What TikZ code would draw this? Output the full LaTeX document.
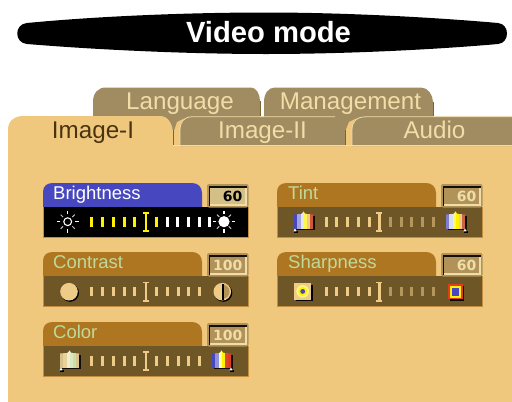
\documentclass[tikz,border=0pt]{standalone}
\usepackage{fontspec}
\setmainfont{Liberation Sans}
\newfontfamily\valfont{DejaVu Sans}
\definecolor{panelbg}{HTML}{EFC87E}
\definecolor{tabback}{HTML}{A08C60}
\definecolor{tabline}{HTML}{7A6434}
\definecolor{head}{HTML}{AF7622}
\definecolor{body}{HTML}{6F5626}
\definecolor{bluehead}{HTML}{4747BF}
\definecolor{labelgreen}{HTML}{BEDA9A}
\definecolor{tick}{HTML}{EFCB88}
\definecolor{tabtext}{HTML}{F0DDA8}
\definecolor{valfill}{HTML}{B1935A}
\definecolor{valedge}{HTML}{F0DDA8}
\definecolor{activeval}{HTML}{D4BF86}
\definecolor{darkbrown}{HTML}{4A3410}
\tikzset{
 tabtxt/.style={font=\fontsize{24.2}{26}\selectfont,text=tabtext,inner sep=0pt,anchor=base},
 hlabel/.style={font=\fontsize{18.5}{20}\selectfont,text=labelgreen,inner sep=0pt,anchor=base west},
 valtxt/.style={font=\valfont\fontsize{14}{16}\bfseries\selectfont,inner sep=0pt,anchor=base east},
}
\newcommand{\dotticks}[5]{%
 \foreach \k in {0,1,2,3,4}{\fill[#3] ({#1+\k*10.8-1.5},{#2-4.8}) rectangle ({#1+\k*10.8+1.5},{#2+4.8});}
 \foreach \k in {0,1,2,3,4}{\fill[#4] ({#5+\k*10.7-1.5},{#2-4.8}) rectangle ({#5+\k*10.7+1.5},{#2+4.8});}
}
\newcommand{\bigtick}[3]{%
 \fill[#3] ({#1-1.2},{#2-9}) rectangle ({#1+1.2},{#2+9});
 \fill[#3] ({#1-3},{#2-10}) rectangle ({#1+3},{#2-8.4});
 \fill[#3] ({#1-3},{#2+8.4}) rectangle ({#1+3},{#2+10});
}
\newcommand{\panelshape}[5]{%
 \fill[#4] (#1,#2+24.5) -- (#1,#2+9) .. controls (#1,#2+3) and (#1+4,#2) .. (#1+10,#2) -- (#3-10,#2)
   .. controls (#3-4,#2) and (#3,#2+4) .. (#3,#2+10) -- (#3,#2+24.5) -- cycle;
 \fill[#5] (#1,#2+24) rectangle (#1+205,#2+54.5);
 \draw[head!70!panelbg,line width=0.6pt] (#1,#2+24) -- (#1,#2+54.5) -- (#1+205,#2+54.5) -- (#1+205,#2+24);
}
\newcommand{\valbox}[6]{%
 \fill[valfill,rounded corners=2pt] (#1,#2+1) rectangle (#1+41.5,#2+24.5);
 \fill[black!90!valfill] (#1+1.8,#2+3.2) rectangle (#1+39.8,#2+22.8);
 \fill[#3] (#1+3.4,#2+5) rectangle (#1+39.8,#2+21);
 \fill[valedge] (#1+38.3,#2+5) rectangle (#1+39.8,#2+22.8);
 \fill[valedge] (#1+3.4,#2+21) rectangle (#1+39.8,#2+22.8);
 \node[valtxt,text=#4] (#6) at (#1+35.5,#2+18.5) {#5};
}
\newcommand{\sunicon}[3]{%
 \foreach \a in {0,90,180,270}{\draw[white,line width=1.1pt] ({#1+7.6*cos(\a)},{#2+7.6*sin(\a)}) -- ({#1+11*cos(\a)},{#2+11*sin(\a)});}
 \foreach \a in {45,135,225,315}{\draw[white!75!black,line width=1pt] ({#1+6.6*cos(\a)},{#2+6.6*sin(\a)}) -- ({#1+10*cos(\a)},{#2+10*sin(\a)});}
}
\newcommand{\colorflag}[5]{%
 \fill[black!85!body] (#1+1.5,#2+3) rectangle (#1+20.5,#2+17.2);
 \begin{scope}
 \clip (#1,#2+1.5) -- (#1+6.5,#2+1) -- (#1+8,#2+0.6) -- (#1+9.5,#2-1.6) -- (#1+11,#2+0.6) -- (#1+13,#2+1) -- (#1+19.3,#2+1.5) -- (#1+19.3,#2+15.8) -- (#1,#2+15.8) -- cycle;
 \foreach \i/\c in {#3}{\fill[\c] (#1+\i,#2-2) rectangle (#1+\i+3.4,#2+16);}
 \end{scope}
 \fill[black] (#4-1,#5+0.8) rectangle (#4+2.5,#5+2.3);
 \fill[white] (#4-1.5,#5+0.8) -- (#4,#5-2) -- (#4+1.5,#5+0.8) -- cycle;
}
\begin{document}
\begin{tikzpicture}[x=1pt,y=-1pt,line cap=butt]
\useasboundingbox (0,0) rectangle (512,402);
\fill[white] (0,0) rectangle (512,402);
% title
\fill[black] (27,23) .. controls (100,16) and (190,12.5) .. (266,12.5) .. controls (341,12.5) and (430,17) .. (498,23)
  .. controls (510,24) and (510,43) .. (498,44) .. controls (430,50) and (341,54) .. (266,54)
  .. controls (190,54) and (100,50) .. (27,44) .. controls (14,43) and (14,24) .. (27,23) -- cycle;
\node[font=\fontsize{29.2}{30}\bfseries\selectfont,text=white,inner sep=0pt,anchor=base] (title) at (268.5,42.7) {Video mode};
% back tabs
\fill[tabback] (93,130) -- (93,102) .. controls (93,93) and (98,87.5) .. (106,87.5) -- (251,87.5) .. controls (256,87.5) and (260,94) .. (260,101) -- (260,130) -- cycle;
\fill[tabback] (264,130) -- (264,102) .. controls (264,94) and (268,87.5) .. (275,87.5) -- (421,87.5) .. controls (428,87.5) and (433,95) .. (433,102) -- (433,118) -- (360,130) -- cycle;
\draw[tabline,line width=1pt] (260,101) -- (260,116) (433,102) -- (433,116);
\node[tabtxt] (language) at (180,109) {Language};
\node[tabtxt] (management) at (350.5,109) {Management};
% panel
\fill[panelbg] (8,402) -- (8,130) .. controls (8,121) and (14,116) .. (24,116) -- (160,116) .. controls (168,116) and (173,124) .. (173,134) -- (173,146) -- (512,146) -- (512,402) -- cycle;
% wedges between the front tabs
\fill[panelbg] (173,134) -- (173,146) -- (180,146) -- (180,130) .. controls (180,124) and (182,120) .. (185,118) -- (177,122) -- cycle;
\fill[panelbg] (345,132) -- (345,146) -- (352,146) -- (352,130) .. controls (352,124) and (354,120) .. (357,118) -- (349,122) -- cycle;
% front tabs
\fill[tabback] (180,146) -- (180,130) .. controls (180,122) and (184,116.5) .. (192,116.5) -- (335,116.5) .. controls (340,116.5) and (345,124) .. (345,132) -- (345,146) -- cycle;
\fill[tabback] (352,146) -- (352,130) .. controls (352,122) and (356,116.5) .. (366,116.5) -- (512,116.5) -- (512,146) -- cycle;
\draw[tabtext,line width=0.8pt] (180,145.5) -- (180,130) .. controls (180,122) and (184,116.8) .. (192,116.8) -- (335,116.8);
\draw[tabtext,line width=0.8pt] (352,145.5) -- (352,130) .. controls (352,122) and (356,116.8) .. (366,116.8) -- (512,116.8);
\draw[tabtext,line width=0.8pt] (173,145.6) -- (512,145.6);
\draw[tabline,line width=1pt] (345,130) -- (345,145) (173,130) -- (173,145);
\node[tabtxt,text=darkbrown] (imagei) at (93,138.3) {Image-I};
\node[tabtxt] (imageii) at (262.5,138.3) {Image-II};
\node[tabtxt] (audio) at (434.5,138.3) {Audio};
% panels
\panelshape{43}{183}{202}{bluehead}{black}
\panelshape{43}{252}{202}{head}{body}
\panelshape{43}{322}{202}{head}{body}
\panelshape{277}{183}{436}{head}{body}
\panelshape{277}{252}{436}{head}{body}
\node[hlabel,text=white] (brightness) at (53,199) {Brightness};
\node[hlabel] (contrast) at (53,268) {Contrast};
\node[hlabel] (color) at (53,338) {Color};
\node[hlabel] (tint) at (288,199) {Tint};
\node[hlabel] (sharpness) at (288,268) {Sharpness};
\valbox{207}{183}{activeval}{black}{60}{vbright}
\valbox{207}{252}{valfill}{valedge}{100}{vcontrast}
\valbox{207}{322}{valfill}{valedge}{100}{vcolor}
\valbox{441}{183}{valfill}{valedge}{60}{vtint}
\valbox{441}{252}{valfill}{valedge}{60}{vsharp}
% sliders
\dotticks{91.7}{222}{yellow}{white}{167}
\fill[yellow] (155.2,217.2) rectangle (158.2,226.8);
\bigtick{145.7}{222}{yellow}
\dotticks{91.7}{291.5}{tick}{tick}{156.7}
\bigtick{145.7}{291.5}{tick}
\dotticks{91.7}{361}{tick}{tick}{156.7}
\bigtick{145.7}{361}{tick}
\dotticks{326}{222}{tick}{tick!55!body}{390.3}
\bigtick{379.3}{222}{tick}
\dotticks{326}{291.5}{tick}{tick!55!body}{390.3}
\bigtick{379.3}{291.5}{tick}
% brightness icons
\sunicon{67.7}{221.7}{s1}
\draw[white,line width=1.1pt,fill=black] (67.7,221.7) circle (3.9);
\sunicon{224}{221.7}{s2}
\fill[white] (224,221.7) circle (5.6);
% contrast icons
\fill[black] (70,292.8) circle (9);
\fill[tick] (69,291.7) circle (8.8);
\fill[black] (223.3,292.8) circle (9);
\fill[tick] (222.3,291.7) circle (8.8);
\fill[valfill] (222.3,284.4) arc (-90:90:7.3) -- cycle;
\fill[black] (222.3,283.5) rectangle (224,300);
% colour icons
\colorflag{60}{352}{0/tabtext!60!valfill,3.3/tabtext!85!valfill,6.5/tabtext!60!white,9.7/labelgreen!60!white,13/labelgreen!85!white,16/tabtext!65!valfill}{61}{369.5}
\colorflag{212}{352}{0/bluehead,3.3/bluehead!60!white,6.5/yellow!30!white,9.7/yellow,13/red!50!valfill,16/red!60!valfill}{231}{369.5}
\colorflag{294}{213}{0/bluehead,3.3/bluehead!50!white,6.5/white!85!bluehead,9.7/yellow!70!white,13/tick,16/red!40!valfill}{295}{230.5}
\colorflag{446}{213}{0/bluehead!70!white,3.3/white!80!bluehead,6.5/yellow!60!white,9.7/yellow,13/tick,16/red!30!valfill}{465}{230.5}
% sharpness icons
\fill[black] (296,285) rectangle (312.5,301);
\fill[tick] (294.3,283.3) rectangle (311,299.5);
\fill[white!50!yellow] (302.7,291.4) circle (6.3);
\fill[yellow] (302.7,291.4) circle (4.6);
\fill[bluehead] (302.7,291.4) circle (2.4);
\fill[black] (450,286) rectangle (464,301);
\fill[red!60!valfill] (448.3,284.3) rectangle (462.7,299.3);
\fill[yellow] (449.8,285.8) rectangle (461.2,297.8);
\fill[bluehead] (451.9,288.2) rectangle (458.6,295.7);
\end{tikzpicture}
\end{document}
